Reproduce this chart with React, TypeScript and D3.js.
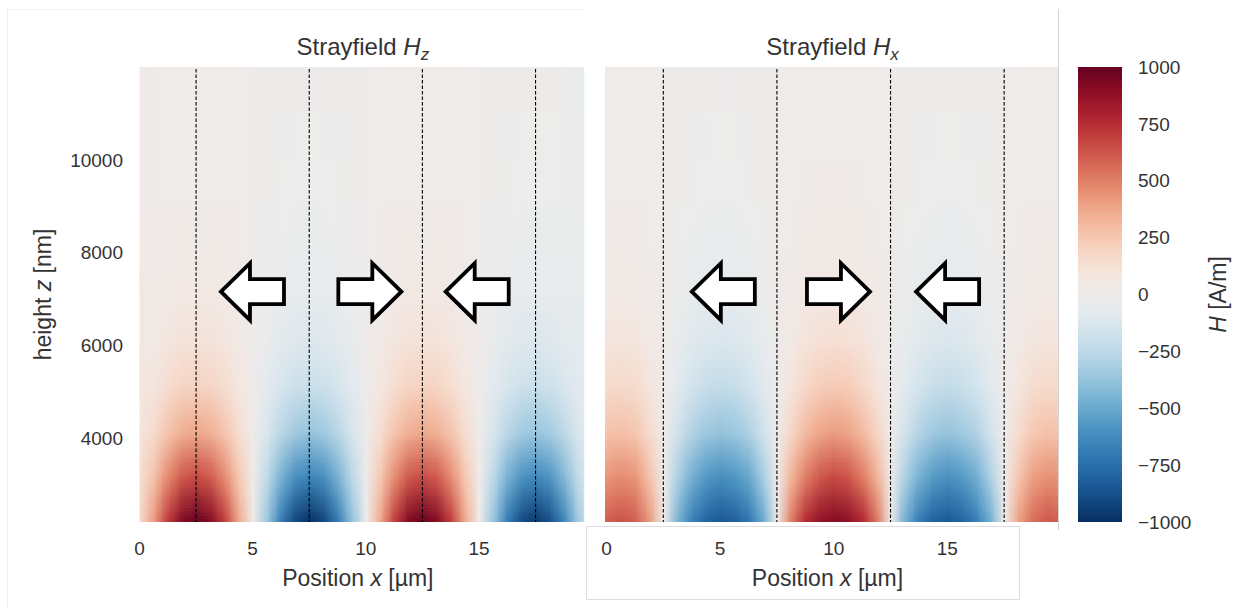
import React, { useMemo } from 'react';
import * as d3 from 'd3';

// ---- data ----
const xSamples = [0, 0.625, 1.25, 1.875, 2.5, 3.125, 3.75, 4.375, 5, 5.625, 6.25, 6.875, 7.5, 8.125, 8.75, 9.375, 10, 10.625, 11.25, 11.875, 12.5, 13.125, 13.75, 14.375, 15, 15.625, 16.25, 16.875, 17.5, 18.125, 18.75, 19.375, 20];
const zRows = [2200, 3180, 4160, 5140, 6120, 7100, 8080, 9060, 10040, 11020, 12000];

// Strayfield Hz [A/m], one row per height in zRows, one value per x in xSamples
const hzRows = [
  [150, 420, 720, 930, 1000, 920, 700, 370, 20, -360, -700, -920, -1000, -920, -700, -380, -10, 370, 700, 930, 1000, 920, 700, 370, 0, -370, -700, -900, -970, -880, -650, -330, -80],
  [135, 277, 475, 614, 660, 607, 462, 244, 13, -238, -462, -607, -660, -607, -462, -251, -7, 244, 462, 614, 660, 607, 462, 244, 0, -244, -462, -594, -640, -581, -429, -218, -55],
  [95, 155, 266, 344, 370, 340, 259, 137, 7, -133, -259, -340, -370, -340, -259, -141, -4, 137, 259, 344, 370, 340, 259, 137, 0, -137, -259, -333, -359, -326, -241, -125, -45],
  [75, 84, 144, 186, 200, 184, 140, 74, 4, -72, -140, -184, -200, -184, -140, -76, -2, 74, 140, 186, 200, 184, 140, 74, 0, -74, -140, -180, -194, -176, -130, -82, -42],
  [62, 46, 79, 102, 110, 101, 77, 41, 2, -40, -77, -101, -110, -101, -77, -42, -1, 41, 77, 102, 110, 101, 77, 41, 0, -41, -77, -99, -107, -97, -72, -60, -40],
  [55, 25, 43, 56, 60, 55, 42, 22, 1, -22, -42, -55, -60, -55, -42, -23, 0, 22, 42, 56, 60, 55, 42, 22, 0, -22, -42, -54, -58, -53, -44, -48, -40],
  [50, 15, 25, 33, 35, 32, 25, 13, 1, -13, -25, -32, -35, -32, -25, -13, 0, 13, 25, 33, 35, 32, 25, 13, 0, -13, -25, -32, -34, -31, -30, -42, -40],
  [46, 10, 16, 20, 22, 20, 15, 8, 0, -8, -15, -20, -22, -20, -15, -8, 0, 8, 15, 20, 22, 20, 15, 8, 0, -8, -15, -20, -21, -19, -24, -40, -40],
  [43, 7, 11, 14, 15, 14, 10, 6, 0, -5, -10, -14, -15, -14, -10, -6, 0, 6, 10, 14, 15, 14, 10, 6, 0, -6, -10, -13, -15, -13, -20, -38, -38],
  [41, 5, 7, 9, 10, 9, 7, 4, 0, -4, -7, -9, -10, -9, -7, -4, 0, 4, 7, 9, 10, 9, 7, 4, 0, -4, -7, -9, -10, -9, -18, -37, -37],
  [40, 4, 5, 7, 7, 6, 5, 3, 0, -3, -5, -6, -7, -6, -5, -3, 0, 3, 5, 7, 7, 6, 5, 3, 0, -3, -5, -6, -7, -6, -16, -36, -36],
];

// Strayfield Hx [A/m]
const hxRows = [
  [600, 640, 600, 420, 0, -460, -680, -800, -850, -820, -720, -500, 0, 520, 760, 880, 920, 890, 780, 540, 0, -480, -700, -810, -840, -800, -690, -480, 0, 400, 560, 620, 600],
  [432, 461, 432, 272, 0, -306, -471, -569, -612, -580, -505, -320, 0, 331, 510, 616, 662, 625, 515, 340, 0, -302, -466, -563, -605, -565, -480, -300, 0, 259, 403, 446, 432],
  [264, 282, 251, 157, 0, -168, -281, -348, -374, -352, -296, -172, 0, 182, 304, 377, 405, 380, 306, 186, 0, -166, -277, -344, -370, -340, -284, -164, 0, 150, 246, 273, 264],
  [156, 166, 150, 87, 0, -88, -159, -203, -221, -206, -165, -90, 0, 96, 172, 220, 239, 222, 175, 98, 0, -87, -157, -201, -218, -201, -156, -86, 0, 83, 146, 161, 156],
  [84, 90, 81, 47, 0, -48, -86, -109, -119, -110, -88, -48, 0, 52, 93, 119, 129, 119, 94, 53, 0, -47, -85, -108, -118, -108, -84, -46, 0, 45, 78, 87, 84],
  [48, 51, 46, 27, 0, -27, -49, -63, -68, -63, -50, -27, 0, 30, 53, 68, 74, 68, 54, 30, 0, -27, -48, -62, -67, -62, -48, -27, 0, 26, 45, 50, 48],
  [27, 29, 26, 15, 0, -15, -27, -35, -38, -35, -28, -15, 0, 16, 30, 38, 41, 38, 30, 17, 0, -15, -27, -35, -38, -35, -27, -15, 0, 14, 25, 28, 27],
  [17, 18, 16, 10, 0, -10, -17, -22, -24, -22, -17, -10, 0, 10, 19, 24, 26, 24, 19, 10, 0, -10, -17, -22, -24, -22, -17, -10, 0, 9, 16, 17, 17],
  [11, 12, 11, 6, 0, -6, -11, -14, -15, -14, -11, -6, 0, 7, 12, 15, 17, 15, 12, 7, 0, -6, -11, -14, -15, -14, -11, -6, 0, 6, 10, 11, 11],
  [7, 8, 7, 4, 0, -4, -7, -9, -10, -9, -7, -4, 0, 4, 8, 10, 11, 10, 8, 4, 0, -4, -7, -9, -10, -9, -7, -4, 0, 4, 7, 7, 7],
  [5, 5, 5, 3, 0, -3, -5, -6, -7, -6, -5, -3, 0, 3, 5, 7, 7, 7, 5, 3, 0, -3, -5, -6, -7, -6, -5, -3, 0, 3, 5, 5, 5],
];

const wallPositions = [2.5, 7.5, 12.5, 17.5];
const xTicks = [0, 5, 10, 15];
const zTicks = [4000, 6000, 8000, 10000];
const colorbarTicks = [-1000, -750, -500, -250, 0, 250, 500, 750, 1000];
const colorLimits = [-1000, 1000];
const xExtentHz = [0, 19.65];
const xExtentHx = [-0.066, 19.87];
const zExtent = [2200, 12000];
const arrowXHz = [4.97, 10.2, 14.9];
const arrowXHx = [5.12, 10.23, 14.99];
const arrowDirs = [-1, 1, -1];
const arrowZ = 7160;

// ---- layout ----
const W = 1258;
const H = 608;
const FONT = '"Liberation Sans", Arial, Helvetica, sans-serif';
const TXT = '#333333';
const plotTop = 67;
const plotBottom = 522;

// RdBu reversed, very slightly toned down to match the greyish centre of the reference
const rdbuR = (t: number) => {
  const c = d3.rgb(d3.interpolateRdBu(1 - t));
  return d3.rgb(c.r * 0.982, c.g * 0.982, c.b * 0.985).formatHex();
};

const color = d3
  .scaleDiverging(rdbuR)
  .domain([colorLimits[0], 0, colorLimits[1]])
  .clamp(true);

function makeImage(rows: number[][]): string {
  const h = rows.length;
  const w = rows[0].length;
  const canvas = document.createElement('canvas');
  canvas.width = w;
  canvas.height = h;
  const ctx = canvas.getContext('2d');
  if (!ctx) return '';
  const img = ctx.createImageData(w, h);
  for (let r = 0; r < h; r++) {
    const row = rows[h - 1 - r];
    for (let c = 0; c < w; c++) {
      const col = d3.rgb(color(row[c]) as any);
      const k = (r * w + c) * 4;
      img.data[k] = col.r;
      img.data[k + 1] = col.g;
      img.data[k + 2] = col.b;
      img.data[k + 3] = 255;
    }
  }
  ctx.putImageData(img, 0, 0);
  return canvas.toDataURL('image/png');
}

function Arrow({ cx, cy, dir }: { cx: number; cy: number; dir: number }) {
  const pts = [
    [-31, 0],
    [-2, -28.5],
    [-2, -12.5],
    [32, -12.5],
    [32, 12.5],
    [-2, 12.5],
    [-2, 28.5],
  ]
    .map(([px, py]) => `${cx + (dir < 0 ? px : -px)},${cy + py}`)
    .join(' ');
  return <polygon points={pts} fill="#ffffff" stroke="#000000" strokeWidth={3.8} strokeLinejoin="miter" />;
}

function Panel({
  id,
  rows,
  xExtent,
  range,
  arrowsX,
  title,
  sub,
  showY,
}: {
  id: string;
  rows: number[][];
  xExtent: number[];
  range: number[];
  arrowsX: number[];
  title: string;
  sub: string;
  showY: boolean;
}) {
  const x = d3.scaleLinear().domain(xExtent).range(range);
  const y = d3.scaleLinear().domain(zExtent).range([plotBottom, plotTop]);
  const href = useMemo(() => makeImage(rows), [rows]);
  const dx = xSamples[1] - xSamples[0];
  const dz = zRows[1] - zRows[0];
  const ix0 = x(xSamples[0] - dx / 2);
  const ix1 = x(xSamples[xSamples.length - 1] + dx / 2);
  const iy0 = y(zRows[zRows.length - 1] + dz / 2);
  const iy1 = y(zRows[0] - dz / 2);
  const cx = (range[0] + range[1]) / 2;
  return (
    <g>
      <clipPath id={id}>
        <rect x={range[0]} y={plotTop} width={range[1] - range[0]} height={plotBottom - plotTop} />
      </clipPath>
      <image
        href={href}
        x={ix0}
        y={iy0}
        width={ix1 - ix0}
        height={iy1 - iy0}
        preserveAspectRatio="none"
        clipPath={`url(#${id})`}
      />
      {wallPositions.map((w) => (
        <line
          key={w}
          x1={x(w)}
          x2={x(w)}
          y1={plotTop + 2}
          y2={plotBottom}
          stroke="#000"
          strokeWidth={1.1}
          strokeDasharray="3.5 2"
        />
      ))}
      {arrowsX.map((ax, i) => (
        <Arrow key={i} cx={x(ax)} cy={y(arrowZ)} dir={arrowDirs[i]} />
      ))}
      {xTicks.map((t) => (
        <text key={t} x={x(t)} y={555} textAnchor="middle" fontSize={19} fill={TXT} fontFamily={FONT}>
          {t}
        </text>
      ))}
      <text x={cx - 4} y={586} textAnchor="middle" fontSize={23} fill={TXT} fontFamily={FONT}>
        Position <tspan fontStyle="italic">x</tspan> [µm]
      </text>
      <text x={cx + 1} y={55} textAnchor="middle" fontSize={24} fill={TXT} fontFamily={FONT}>
        {title} <tspan fontStyle="italic">H</tspan>
        <tspan fontStyle="italic" fontSize={17} dy={5}>
          {sub}
        </tspan>
      </text>
      {showY &&
        zTicks.map((t) => (
          <text key={t} x={123} y={y(t)} dy="0.35em" textAnchor="end" fontSize={19} fill={TXT} fontFamily={FONT}>
            {d3.format('d')(t)}
          </text>
        ))}
      {showY && (
        <text
          transform={`translate(51,${(plotTop + plotBottom) / 2}) rotate(-90)`}
          textAnchor="middle"
          fontSize={23}
          fill={TXT}
          fontFamily={FONT}
        >
          height <tspan fontStyle="italic">z</tspan> [nm]
        </text>
      )}
    </g>
  );
}

function Colorbar() {
  const y = d3.scaleLinear().domain(colorLimits).range([plotBottom, plotTop]);
  const n = 60;
  const stops = d3.range(0, n + 1).map((i) => colorLimits[0] + (i / n) * (colorLimits[1] - colorLimits[0]));
  const fmt = d3.format('d');
  return (
    <g>
      <defs>
        <linearGradient id="cbgrad" x1="0" y1="1" x2="0" y2="0">
          {stops.map((v, i) => (
            <stop key={i} offset={`${(i / n) * 100}%`} stopColor={color(v) as any} />
          ))}
        </linearGradient>
      </defs>
      <rect x={1078} y={plotTop} width={44} height={plotBottom - plotTop} fill="url(#cbgrad)" />
      {colorbarTicks.map((t) => (
        <text key={t} x={1138} y={y(t)} dy="0.35em" fontSize={19} fill={TXT} fontFamily={FONT}>
          {fmt(t)}
        </text>
      ))}
      <text
        transform={`translate(1226,${y(0)}) rotate(-90)`}
        textAnchor="middle"
        fontSize={23}
        fill={TXT}
        fontFamily={FONT}
      >
        <tspan fontStyle="italic">H</tspan> [A/m]
      </text>
    </g>
  );
}

export default function App() {
  return (
    <svg
      width={W}
      height={H}
      viewBox={`0 0 ${W} ${H}`}
      style={{ position: 'absolute', left: 0, top: 0, display: 'block', background: '#ffffff' }}
    >
      <rect x={0} y={0} width={W} height={H} fill="#ffffff" />
      {/* faint frames of the composed figure */}
      <line x1={7.5} x2={7.5} y1={9} y2={608} stroke="#efefef" strokeWidth={1} />
      <line x1={7.5} x2={585} y1={9.5} y2={9.5} stroke="#f2f2f2" strokeWidth={1} />
      <Panel
        id="clipHz"
        rows={hzRows}
        xExtent={xExtentHz}
        range={[139.5, 584.2]}
        arrowsX={arrowXHz}
        title="Strayfield"
        sub="z"
        showY={true}
      />
      <rect x={586.5} y={526.5} width={433} height={73} fill="#ffffff" stroke="#dddddd" strokeWidth={1} />
      <Panel
        id="clipHx"
        rows={hxRows}
        xExtent={xExtentHx}
        range={[605, 1058]}
        arrowsX={arrowXHx}
        title="Strayfield"
        sub="x"
        showY={false}
      />
      <line x1={1058.5} x2={1058.5} y1={9} y2={530} stroke="#d4d4d4" strokeWidth={1} />
      <Colorbar />
    </svg>
  );
}
